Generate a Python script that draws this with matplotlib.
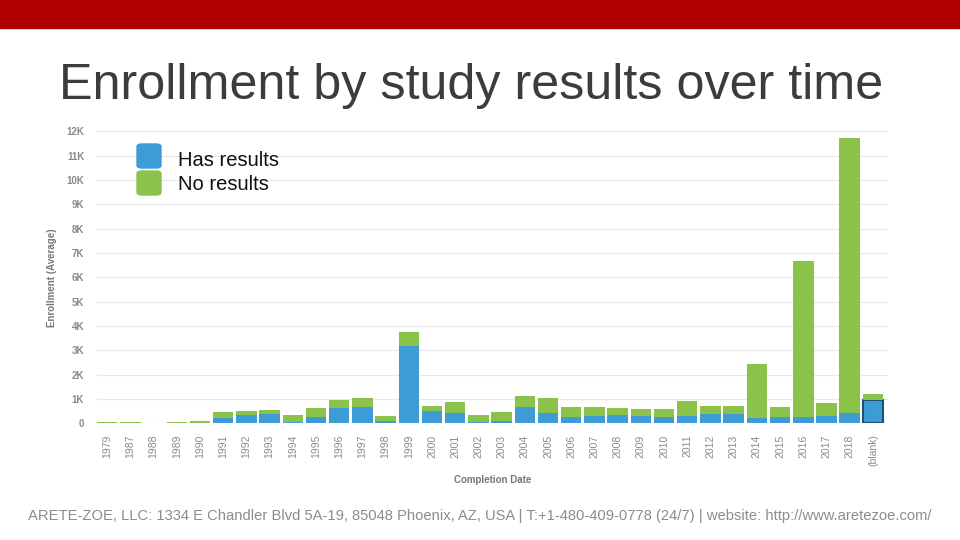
"""Enrollment by study results over time (stacked bars, slide style)."""

import matplotlib
matplotlib.use("Agg")
import matplotlib.pyplot as plt
import numpy as np
from matplotlib.patches import FancyBboxPatch, Rectangle

plt.rcParams["font.family"] = ["Liberation Sans", "DejaVu Sans"]

years = ["1979", "1987", "1988", "1989", "1990", "1991", "1992", "1993", "1994",
         "1995", "1996", "1997", "1998", "1999", "2000", "2001", "2002", "2003",
         "2004", "2005", "2006", "2007", "2008", "2009", "2010", "2011", "2012",
         "2013", "2014", "2015", "2016", "2017", "2018", "(blank)"]
# segment heights, in enrollment units
has_results = [0, 0, 0, 10, 30, 230, 350, 390, 70, 270, 640, 680, 110, 3180,
               520, 440, 70, 110, 680, 440, 270, 310, 350, 310, 270, 310, 390,
               390, 230, 270, 270, 310, 440, 970]
no_results = [40, 40, 0, 60, 80, 250, 170, 170, 280, 370, 330, 370, 200, 580,
              200, 450, 280, 370, 450, 610, 410, 370, 290, 290, 330, 620, 330,
              330, 2210, 410, 6410, 540, 11310, 250]

BLUE = "#3d9bd6"
GREEN = "#8bc34a"
GREY = "#8a8a8a"

fig = plt.figure(figsize=(9.6, 5.4), dpi=100)

# red header band
fig.patches.append(Rectangle((0, 1 - 28 / 540), 1, 28 / 540, transform=fig.transFigure,
                             color="#b00000", zorder=0))
fig.text(0.491, 0.840, "Enrollment by study results over time", ha="center", va="center",
         fontsize=36.2, color="#3c3c3c")
fig.text(0.5, 0.044,
         "ARETE-ZOE, LLC: 1334 E Chandler Blvd 5A-19, 85048 Phoenix, AZ, USA | "
         "T:+1-480-409-0778 (24/7) | website: http://www.aretezoe.com/",
         ha="center", va="center", fontsize=10.6, color="#8c8c8c")

ax = fig.add_axes([0.1007, 0.2161, 0.8243, 0.5404])
x = np.arange(len(years))
has = np.array(has_results)
no = np.array(no_results)
bars = ax.bar(x, has, width=0.88, color=BLUE, zorder=2)
ax.bar(x, no, width=0.88, bottom=has, color=GREEN, zorder=2)
# the (blank) bar is drawn as selected
bars[-1].set_edgecolor("#1f4f78")
bars[-1].set_linewidth(1.5)

ax.set_xlim(-0.45, len(years) - 0.35)
ax.set_ylim(0, 12000)
ax.set_yticks(np.arange(0, 12001, 1000))
ax.set_yticklabels(["0"] + [f"{k}K" for k in range(1, 13)])
ax.set_xticks(x)
ax.set_xticklabels(years, rotation=90)
ax.grid(axis="y", color="#e8e8e8", linewidth=0.8, zorder=0)
for s in ax.spines.values():
    s.set_visible(False)
ax.tick_params(length=0)
ax.tick_params(axis="y", labelsize=7, labelcolor=GREY, pad=9)
ax.tick_params(axis="x", labelsize=7.5, labelcolor=GREY, pad=8)
for t in ax.get_yticklabels():
    t.set_fontweight("bold")
ax.set_ylabel("Enrollment (Average)", fontsize=7, color="#777777", fontweight="bold", labelpad=7)
ax.set_xlabel("Completion Date", fontsize=7, color="#777777", fontweight="bold", labelpad=6)

# legend drawn as rounded swatches
for i, (lab, col) in enumerate([("Has results", BLUE), ("No results", GREEN)]):
    y0 = 1 - (144 + i * 27) / 540
    fig.patches.append(FancyBboxPatch((137 / 960, y0 - 24 / 540), 24 / 960, 24 / 540,
                                      boxstyle="round,pad=0,rounding_size=0.005",
                                      transform=fig.transFigure, color=col))
    fig.text(178 / 960, 1 - (160 + i * 25) / 540, lab, ha="left", va="center",
             fontsize=14.5, color="#111111")

fig.savefig("out.png", dpi=100)
